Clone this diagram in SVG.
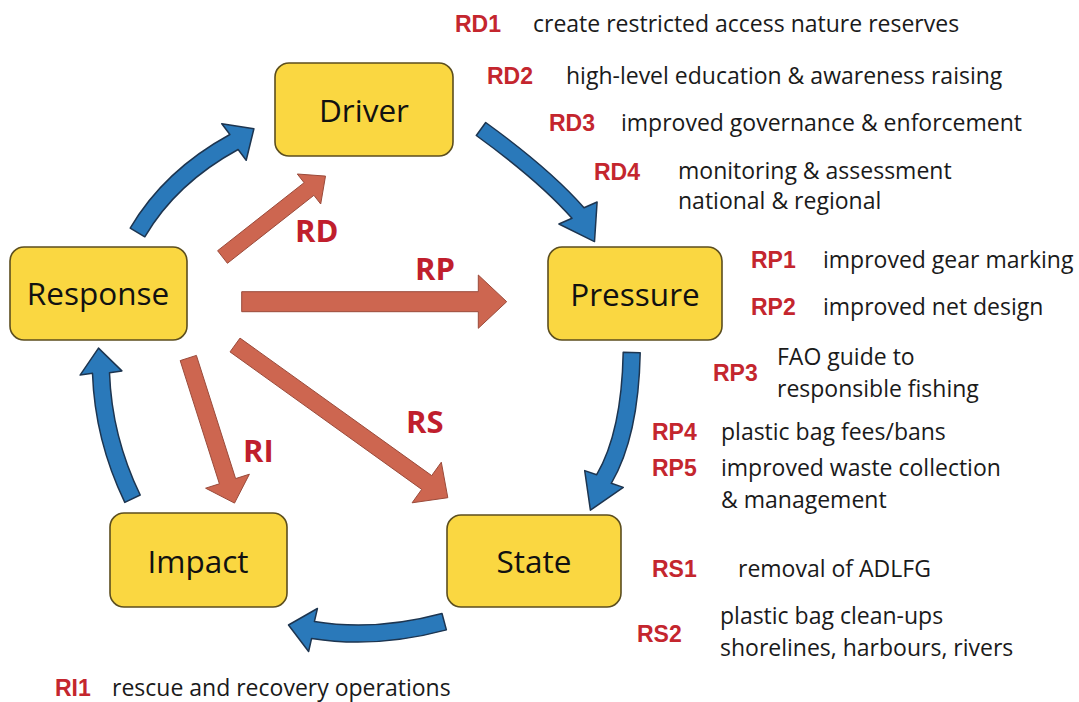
<svg xmlns="http://www.w3.org/2000/svg" width="1079" height="702" viewBox="0 0 1079 702">
<style>
.box{fill:#FAD741;stroke:#5C4E1E;stroke-width:1.6}
.lbl{font-family:"Open Sans","Liberation Sans",sans-serif;font-size:31.5px;fill:#111;text-anchor:middle}
.blue{fill:#2A79BA;stroke:#1D3550;stroke-width:1.5;stroke-linejoin:round}
.red{fill:#CD6650;stroke:#9A4A3A;stroke-width:1;stroke-linejoin:miter}
.rl{font-family:"Open Sans","Liberation Sans",sans-serif;font-weight:bold;font-size:31px;fill:#C01E2D}
.code{font-family:"Liberation Sans",Arial,sans-serif;font-weight:bold;font-size:23px;fill:#C4262E}
.desc{font-family:"Open Sans","Liberation Sans",sans-serif;font-size:23px;fill:#1a1a1a}
</style>
<rect width="1079" height="702" fill="#fff"/>
<g id="connectors">
<path class="blue" d="M130.2,228.2 Q164.1,170.4 229.9,134.5 L221.8,123.7 L253.9,128.7 L246.2,160.3 L238.1,149.5 Q176.4,183.1 144.8,236.8 Z"/>
<path class="blue" d="M485.7,122.5 Q549.9,169 584,207.7 L597.1,202 L594.5,241.6 L558.9,224 L572,218.3 Q539.1,181 476.3,135.5 Z"/>
<path class="blue" d="M623.2,352.3 Q621.7,431.9 596.7,474.7 L584.7,470.6 L590.4,510.2 L623.3,487.4 L611.3,483.3 Q638.6,436.6 640.2,352.7 Z"/>
<path class="blue" d="M442,613.5 Q375,631.5 314.4,621.6 L317.4,608.5 L288.5,625 L308.6,651.5 L311.6,638.4 Q375.8,648.8 446.4,629.9 Z"/>
<path class="blue" d="M140.2,495 Q111.7,436.1 109.5,372.7 L121.9,370.9 L98.5,348.1 L80.1,375.1 L92.5,373.3 Q94.8,440.2 124.8,502.4 Z"/>
<path class="red" d="M217.6,250.7 L304.1,182.7 L297.3,174 L325.5,176.1 L320.7,204 L313.9,195.3 L227.4,263.3 Z"/>
<path class="red" d="M241.7,291.7 L478.3,291.7 L478.3,275 L506.7,301.7 L478.3,328.3 L478.3,311.7 L241.7,311.7 Z"/>
<path class="red" d="M180.2,360.6 L219.4,483.8 L205.6,488.2 L234.5,503.1 L249.4,474.2 L235.6,478.6 L196.4,355.4 Z"/>
<path class="red" d="M230,351.9 L421.7,489.4 L412.1,502.8 L447.8,497.7 L441.3,462.2 L431.7,475.6 L240,338.1 Z"/>
<text class="rl" x="295" y="242">RD</text>
<text class="rl" x="415" y="280">RP</text>
<text class="rl" x="243" y="462">RI</text>
<text class="rl" x="406" y="433">RS</text>
</g>
<g id="node-driver"><rect class="box" x="275" y="63" width="178" height="93" rx="14"/><text class="lbl" x="364" y="122">Driver</text></g>
<g id="node-pressure"><rect class="box" x="548" y="247" width="174" height="93" rx="14"/><text class="lbl" x="635" y="306">Pressure</text></g>
<g id="node-state"><rect class="box" x="447" y="515" width="174" height="92" rx="14"/><text class="lbl" x="534" y="573">State</text></g>
<g id="node-impact"><rect class="box" x="110" y="513" width="177" height="94" rx="14"/><text class="lbl" x="198" y="573">Impact</text></g>
<g id="node-response"><rect class="box" x="10" y="247" width="177" height="93" rx="14"/><text class="lbl" x="98" y="305">Response</text></g>
<g id="annotations">
<text class="code" x="455" y="32">RD1</text><text class="desc" x="533" y="32">create restricted access nature reserves</text>
<text class="code" x="487" y="84">RD2</text><text class="desc" x="566" y="84">high-level education &amp; awareness raising</text>
<text class="code" x="549" y="131">RD3</text><text class="desc" x="621" y="131">improved governance &amp; enforcement</text>
<text class="code" x="594" y="180">RD4</text><text class="desc" x="678" y="179">monitoring &amp; assessment</text>
<text class="desc" x="678" y="209">national &amp; regional</text>
<text class="code" x="751" y="268">RP1</text><text class="desc" x="823" y="268">improved gear marking</text>
<text class="code" x="751" y="315">RP2</text><text class="desc" x="823" y="315">improved net design</text>
<text class="code" x="713" y="381">RP3</text><text class="desc" x="777" y="365">FAO guide to</text>
<text class="desc" x="777" y="397">responsible fishing</text>
<text class="code" x="652" y="440">RP4</text><text class="desc" x="721" y="440">plastic bag fees/bans</text>
<text class="code" x="652" y="476">RP5</text><text class="desc" x="721" y="476">improved waste collection</text>
<text class="desc" x="721" y="508">&amp; management</text>
<text class="code" x="652" y="577">RS1</text><text class="desc" x="738" y="577">removal of ADLFG</text>
<text class="code" x="637" y="642">RS2</text><text class="desc" x="720" y="624">plastic bag clean-ups</text>
<text class="desc" x="720" y="656">shorelines, harbours, rivers</text>
<text class="code" x="55" y="696">RI1</text><text class="desc" x="112" y="696">rescue and recovery operations</text>
</g>
</svg>
